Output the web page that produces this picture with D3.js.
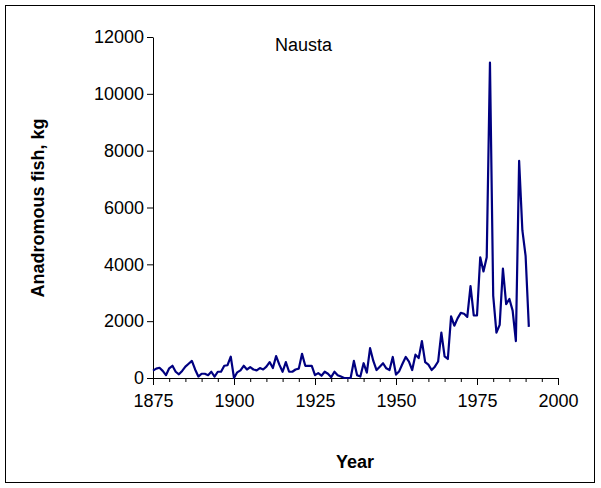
<!DOCTYPE html>
<html><head><meta charset="utf-8">
<script src="https://cdn.jsdelivr.net/npm/d3@7"></script>
<style>body{margin:0;background:#fff}</style>
</head><body>
<script>
const years = d3.range(1875, 1992);
const catch_kg = [260,330,360,250,100,340,430,220,130,250,400,500,600,300,50,150,150,100,220,50,
  220,220,430,450,750,0,200,270,430,300,380,300,270,350,300,400,560,350,770,470,
  220,560,220,220,300,330,850,430,430,430,100,170,80,220,150,30,220,100,50,0,
  0,0,600,100,50,520,190,1050,600,280,400,520,340,280,740,120,240,500,740,580,
  280,820,700,1300,560,470,280,400,580,1600,760,670,2170,1840,2100,2290,2260,2150,3230,2200,
  2200,4250,3750,4250,11100,2900,1600,1870,3850,2600,2780,2370,1300,7640,5200,4300,1800];
const x_ticks = [1875,1900,1925,1950,1975,2000];
const y_ticks = [0,2000,4000,6000,8000,10000,12000];
const data = years.map((y, i) => [y, catch_kg[i]]);
const FONT = "Liberation Sans, Arial, sans-serif";

const svg = d3.select("body").append("svg").attr("width", 601).attr("height", 488)
  .style("font-family", FONT);
svg.append("rect").attr("x", 5.5).attr("y", 5.5).attr("width", 589).attr("height", 477)
  .attr("fill", "none").attr("stroke", "#000");

const x = d3.scaleLinear().domain([1875, 2000]).range([153, 558]);
const y = d3.scaleLinear().domain([0, 12000]).range([378, 37]);

// minor x ticks every 5 years
svg.append("g").attr("transform", "translate(0,378)")
  .call(d3.axisBottom(x).tickValues(d3.range(1875, 2001, 5)).tickSize(4).tickFormat(""))
  .call(g => g.select(".domain").remove());
svg.append("g").attr("transform", "translate(0,378)")
  .call(d3.axisBottom(x).tickValues(x_ticks).tickSize(7).tickSizeOuter(0).tickFormat(d3.format("d")))
  .call(g => g.selectAll("text").style("font-size", "18px").style("font-family", FONT).attr("dy", "1.05em"));
svg.append("g").attr("transform", "translate(153,0)")
  .call(d3.axisLeft(y).tickValues(y_ticks).tickSize(6).tickSizeOuter(0).tickFormat(d3.format("d")))
  .call(g => g.selectAll("text").style("font-size", "18px").style("font-family", FONT));

svg.append("path").datum(data).attr("fill", "none").attr("stroke", "#000080")
  .attr("stroke-width", 2.2).attr("stroke-linejoin", "round")
  .attr("d", d3.line().x(d => x(d[0])).y(d => y(d[1])));

svg.append("text").attr("x", 275).attr("y", 51).style("font-size", "18px").text("Nausta");
svg.append("text").attr("x", 355).attr("y", 468).attr("text-anchor", "middle")
  .style("font-size", "18px").attr("font-weight", "bold").text("Year");
svg.append("text").attr("transform", "translate(44,208) rotate(-90)").attr("text-anchor", "middle")
  .style("font-size", "18px").attr("font-weight", "bold").text("Anadromous fish, kg");
</script>
</body></html>
